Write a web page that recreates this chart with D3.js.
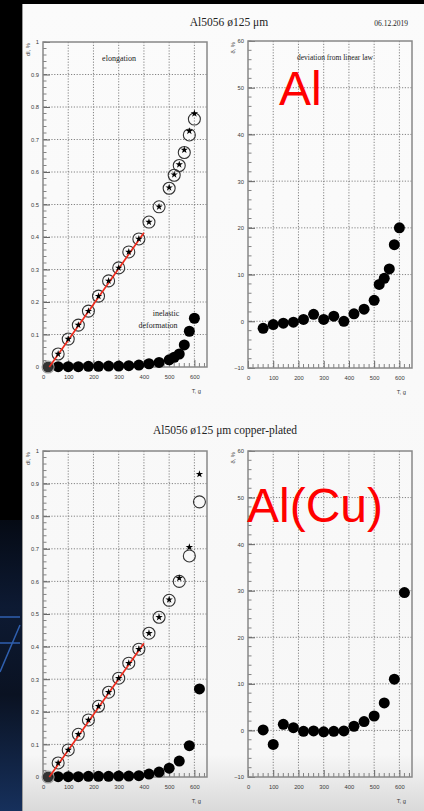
<!DOCTYPE html>
<html>
<head>
<meta charset="utf-8">
<title>Al5056 elongation</title>
<script src="https://cdnjs.cloudflare.com/ajax/libs/d3/7.8.5/d3.min.js"></script>
<style>
  body { margin: 0; background: #000; }
  svg { display: block; }
  .tick-label { font-family: "Liberation Sans", Arial, sans-serif; font-size: 5.8px; fill: #3a3a3a; }
  .serif { font-family: "Liberation Serif", "Times New Roman", serif; fill: #222; }
</style>
</head>
<body>
<div id="chart"></div>
<script>
// ---- data ----
var alLoad      = [20, 60, 100, 140, 180, 220, 260, 300, 340, 380, 420, 460, 500, 520, 540, 560, 580, 600];
var alElong     = [0, 0.040, 0.086, 0.129, 0.172, 0.218, 0.265, 0.305, 0.354, 0.394, 0.446, 0.493, 0.550, 0.590, 0.620, 0.660, 0.714, 0.763];
var alElongStar = [null, 0.040, 0.086, 0.129, 0.172, 0.218, 0.265, 0.305, 0.354, 0.394, 0.446, 0.493, 0.552, 0.592, 0.623, 0.668, 0.726, 0.780];
var alInelastic = [0, 0.001, 0.001, 0.001, 0.002, 0.002, 0.003, 0.003, 0.004, 0.006, 0.010, 0.014, 0.022, 0.030, 0.040, 0.068, 0.110, 0.150];
var alFit       = [[25, 0], [400, 0.413]];
var alDevLoad   = [60, 100, 140, 180, 220, 260, 300, 340, 380, 420, 460, 500, 520, 540, 560, 580, 600];
var alDev       = [-1.5, -0.7, -0.4, -0.2, 0.4, 1.5, 0.4, 1.1, 0.0, 1.6, 2.6, 4.5, 7.9, 9.2, 11.2, 16.4, 20.0];

var cuLoad      = [20, 60, 100, 140, 180, 220, 260, 300, 340, 380, 420, 460, 500, 540, 580, 620];
var cuElong     = [0, 0.043, 0.083, 0.131, 0.175, 0.217, 0.260, 0.303, 0.349, 0.392, 0.441, 0.490, 0.542, 0.600, 0.678, 0.844];
var cuElongStar = [null, 0.043, 0.083, 0.131, 0.175, 0.217, 0.260, 0.303, 0.349, 0.392, 0.441, 0.490, 0.544, 0.610, 0.705, 0.929];
var cuInelastic = [0, 0.001, 0.001, 0.001, 0.002, 0.002, 0.002, 0.003, 0.003, 0.004, 0.009, 0.015, 0.027, 0.049, 0.096, 0.270];
var cuFit       = [[25, 0], [400, 0.41]];
var cuDevLoad   = [60, 100, 140, 180, 220, 260, 300, 340, 380, 420, 460, 500, 540, 580, 620];
var cuDev       = [0.1, -3.0, 1.3, 0.6, -0.2, -0.1, -0.3, -0.2, -0.1, 0.9, 1.9, 3.1, 5.9, 11.0, 29.6];

var xTicks      = [0, 100, 200, 300, 400, 500, 600];
var elongTicks  = [0, 0.1, 0.2, 0.3, 0.4, 0.5, 0.6, 0.7, 0.8, 0.9, 1];
var devTicks    = [-10, 0, 10, 20, 30, 40, 50, 60];

var W = 424, H = 811;
var svg = d3.select('#chart').append('svg').attr('width', W).attr('height', H);

// ---- photo background: dark surround + slide ----
var defs = svg.append('defs');
var g1 = defs.append('linearGradient').attr('id', 'slide').attr('x1', 0).attr('y1', 0).attr('x2', 0).attr('y2', 1);
g1.append('stop').attr('offset', '0%').attr('stop-color', '#fbfbfb');
g1.append('stop').attr('offset', '93%').attr('stop-color', '#f7f7f7');
g1.append('stop').attr('offset', '100%').attr('stop-color', '#d9d9d9');
var g2 = defs.append('linearGradient').attr('id', 'navy').attr('x1', 0).attr('y1', 0).attr('x2', 0).attr('y2', 1);
g2.append('stop').attr('offset', '0%').attr('stop-color', '#050a14');
g2.append('stop').attr('offset', '30%').attr('stop-color', '#0d1a33');
g2.append('stop').attr('offset', '60%').attr('stop-color', '#0a1222');
g2.append('stop').attr('offset', '100%').attr('stop-color', '#16305c');

svg.append('rect').attr('width', W).attr('height', H).attr('fill', '#000');
svg.append('rect').attr('x', 0).attr('y', 520).attr('width', 22).attr('height', H - 520).attr('fill', 'url(#navy)');
svg.append('path').attr('d', 'M0,617H20M0,643H20M20,625L0,672').attr('stroke', '#2f5fae').attr('stroke-width', 1.5).attr('fill', 'none');
svg.append('rect').attr('x', 22).attr('y', 4).attr('width', W - 22).attr('height', H - 4).attr('fill', 'url(#slide)');
svg.append('line').attr('x1', 22.5).attr('x2', 22.5).attr('y1', 4).attr('y2', H).attr('stroke', '#9a9a9a').attr('stroke-width', 1);

// ---- titles ----
svg.append('text').attr('class', 'serif').attr('x', 229).attr('y', 26).attr('text-anchor', 'middle')
   .style('font-size', '11.5px').text('Al5056 ø125 μm');
svg.append('text').attr('class', 'serif').attr('x', 408).attr('y', 26).attr('text-anchor', 'end')
   .style('font-size', '7.5px').text('06.12.2019');
svg.append('text').attr('class', 'serif').attr('x', 225).attr('y', 434).attr('text-anchor', 'middle')
   .style('font-size', '11.5px').text('Al5056 ø125 μm copper-plated');

// ---- panels ----
function panel(box, yDomain, yMajor, yMinorStep, yTitle) {
  var x = d3.scaleLinear().domain([0, 650]).range([box.left, box.right]);
  var y = d3.scaleLinear().domain(yDomain).range([box.bottom, box.top]);
  var g = svg.append('g');

  // grid
  g.selectAll('.gx').data(xTicks.filter(function(d){ return d > 0; })).enter().append('line')
   .attr('x1', function(d){ return x(d); }).attr('x2', function(d){ return x(d); })
   .attr('y1', box.top).attr('y2', box.bottom)
   .attr('stroke', '#666').attr('stroke-width', 0.8).attr('stroke-dasharray', '1.2,1.6');
  g.selectAll('.gy').data(yMajor.slice(1, -1)).enter().append('line')
   .attr('y1', function(d){ return y(d); }).attr('y2', function(d){ return y(d); })
   .attr('x1', box.left).attr('x2', box.right)
   .attr('stroke', '#666').attr('stroke-width', 0.8).attr('stroke-dasharray', '1.2,1.6');

  // x axis ticks (inside) + labels
  var xAxis = d3.axisBottom(x).tickValues(xTicks).tickSize(-7).tickPadding(8).tickFormat(d3.format('d'));
  var xa = g.append('g').attr('transform', 'translate(0,' + box.bottom + ')').call(xAxis);
  xa.select('.domain').remove();
  xa.selectAll('line').attr('stroke', '#666');
  xa.selectAll('text').attr('class', 'tick-label').attr('font-size', null).attr('font-family', null).attr('fill', null);
  var xMinor = d3.range(0, 651, 20).filter(function(d){ return d % 100 !== 0; });
  g.selectAll('.mx').data(xMinor).enter().append('line')
   .attr('x1', function(d){ return x(d); }).attr('x2', function(d){ return x(d); })
   .attr('y1', box.bottom).attr('y2', box.bottom - 4).attr('stroke', '#666').attr('stroke-width', 0.8);

  // y axis ticks (inside) + labels
  var yAxis = d3.axisLeft(y).tickValues(yMajor).tickSize(-7).tickPadding(4)
                .tickFormat(function(d){ return d3.format('~g')(d); });
  var ya = g.append('g').attr('transform', 'translate(' + box.left + ',0)').call(yAxis);
  ya.select('.domain').remove();
  ya.selectAll('line').attr('stroke', '#666');
  ya.selectAll('text').attr('class', 'tick-label').attr('font-size', null).attr('font-family', null).attr('fill', null);
  var yMinor = d3.range(yDomain[0], yDomain[1] + 1e-9, yMinorStep);
  g.selectAll('.my').data(yMinor).enter().append('line')
   .attr('y1', function(d){ return y(d); }).attr('y2', function(d){ return y(d); })
   .attr('x1', box.left).attr('x2', box.left + 3.5).attr('stroke', '#666').attr('stroke-width', 0.8);

  // frame
  g.append('rect').attr('x', box.left).attr('y', box.top)
   .attr('width', box.right - box.left).attr('height', box.bottom - box.top)
   .attr('fill', 'none').attr('stroke', '#888').attr('stroke-width', 1.5);

  // axis titles
  g.append('text').attr('class', 'tick-label').attr('text-anchor', 'end')
   .attr('transform', 'translate(' + (box.left - 13) + ',' + (box.top + 1) + ') rotate(-90)').text(yTitle);
  g.append('text').attr('class', 'tick-label').attr('text-anchor', 'end')
   .attr('x', box.right - 6).attr('y', box.bottom + 26).text('T, g');

  return {x: x, y: y, g: g};
}

function elongationPanel(box, load, elong, star, inelastic, fit) {
  var p = panel(box, [0, 1], elongTicks, 0.02, 'dl, %');
  var pts = load.map(function(d, i){ return {t: d, e: elong[i], s: star[i], n: inelastic[i]}; });

  p.g.selectAll('.inel').data(pts).enter().append('circle')
     .attr('cx', function(d){ return p.x(d.t); }).attr('cy', function(d){ return p.y(d.n); })
     .attr('r', 5.5).attr('fill', function(d, i){ return i === 0 ? '#333' : '#000'; });

  p.g.selectAll('.el').data(pts).enter().append('circle')
     .attr('cx', function(d){ return p.x(d.t); }).attr('cy', function(d){ return p.y(d.e); })
     .attr('r', 6).attr('fill', 'none')
     .attr('stroke', function(d, i){ return i === 0 ? '#999' : '#333'; }).attr('stroke-width', 1.1);

  p.g.append('path').datum(fit)
     .attr('d', d3.line().x(function(d){ return p.x(d[0]); }).y(function(d){ return p.y(d[1]); }))
     .attr('stroke', '#ee2a1c').attr('stroke-width', 1.7).attr('fill', 'none');

  p.g.selectAll('.st').data(pts.filter(function(d){ return d.s !== null; })).enter().append('path')
     .attr('d', d3.symbol().type(d3.symbolStar).size(17))
     .attr('transform', function(d){ return 'translate(' + p.x(d.t) + ',' + p.y(d.s) + ')'; })
     .attr('fill', '#000');
  return p;
}

function deviationPanel(box, load, dev) {
  var p = panel(box, [-10, 60], devTicks, 2, 'δ, %');
  p.g.selectAll('.dev').data(load).enter().append('circle')
     .attr('cx', function(d){ return p.x(d); }).attr('cy', function(d, i){ return p.y(dev[i]); })
     .attr('r', 5.5).attr('fill', '#000');
  return p;
}

var tl = elongationPanel({left: 43, right: 207, top: 42, bottom: 367}, alLoad, alElong, alElongStar, alInelastic, alFit);
var tr = deviationPanel({left: 248, right: 412, top: 41, bottom: 368}, alDevLoad, alDev);
var bl = elongationPanel({left: 43, right: 207, top: 451, bottom: 777}, cuLoad, cuElong, cuElongStar, cuInelastic, cuFit);
var br = deviationPanel({left: 248, right: 412, top: 451, bottom: 777}, cuDevLoad, cuDev);

// ---- annotations ----
svg.append('text').attr('class', 'serif').attr('x', 119).attr('y', 61).attr('text-anchor', 'middle')
   .style('font-size', '8px').text('elongation');
svg.append('text').attr('class', 'serif').attr('x', 166).attr('y', 316).attr('text-anchor', 'middle')
   .style('font-size', '8px').text('inelastic');
svg.append('text').attr('class', 'serif').attr('x', 158).attr('y', 328).attr('text-anchor', 'middle')
   .style('font-size', '8px').text('deformation');
svg.append('text').attr('class', 'serif').attr('x', 335).attr('y', 60).attr('text-anchor', 'middle')
   .style('font-size', '7.5px').text('deviation from linear law');

svg.append('text').attr('x', 279).attr('y', 105).attr('fill', '#ff0000')
   .style('font-family', '"Liberation Sans", Arial, sans-serif').style('font-size', '48px').text('Al');
svg.append('text').attr('x', 247).attr('y', 522).attr('fill', '#ff0000')
   .style('font-family', '"Liberation Sans", Arial, sans-serif').style('font-size', '48px').text('Al(Cu)');
</script>
</body>
</html>
